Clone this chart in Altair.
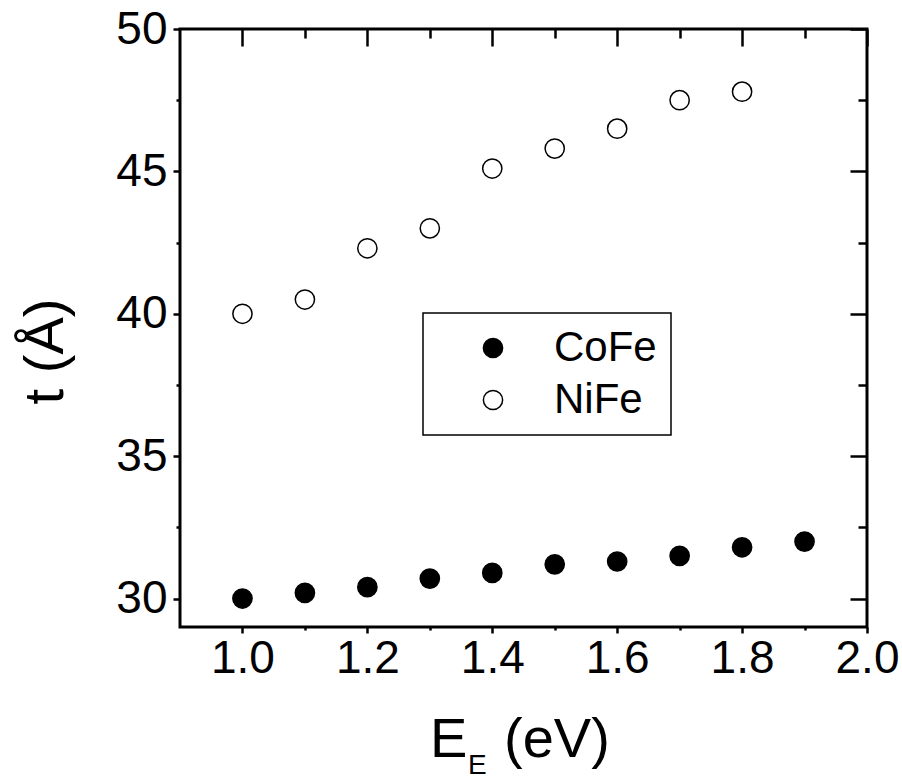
import altair as alt
import pandas as pd

FONT = "Liberation Sans"

# data
series = ["CoFe", "NiFe"]
E_cofe = [1.0, 1.1, 1.2, 1.3, 1.4, 1.5, 1.6, 1.7, 1.8, 1.9]
t_cofe = [30.0, 30.2, 30.4, 30.7, 30.9, 31.2, 31.3, 31.5, 31.8, 32.0]
E_nife = [1.0, 1.1, 1.2, 1.3, 1.4, 1.5, 1.6, 1.7, 1.8]
t_nife = [40.0, 40.5, 42.3, 43.0, 45.1, 45.8, 46.5, 47.5, 47.8]

x_major = [1.0, 1.2, 1.4, 1.6, 1.8, 2.0]
x_minor = [1.1, 1.3, 1.5, 1.7, 1.9]
y_major = [30, 35, 40, 45, 50]
y_minor = [32.5, 37.5, 42.5, 47.5]
x_domain = [0.9, 2.0]
y_domain = [29, 50]

df = pd.DataFrame({
    "E": E_cofe + E_nife,
    "t": t_cofe + t_nife,
    "series": [series[0]] * len(E_cofe) + [series[1]] * len(E_nife),
})

xs = alt.Scale(domain=x_domain, nice=False, zero=False)
ys = alt.Scale(domain=y_domain, nice=False, zero=False)


def ax(values, orient, size, offset=0, **kw):
    base = dict(values=values, orient=orient, tickSize=size, offset=offset,
                domain=False, grid=False, title=None, ticks=True,
                tickColor="black", tickWidth=2.5, labels=False)
    base.update(kw)
    return alt.Axis(**base)


lab = dict(labels=True, labelFont=FONT, labelFontSize=46, labelColor="black",
           labelFlush=False, labelOverlap=False)

x_bottom_major = ax(x_major, "bottom", 6, format=".1f", labelPadding=3, **lab)
x_bottom_minor = ax(x_minor, "bottom", 3)
x_top_major = ax(x_major, "top", 17, offset=-17)
x_top_minor = ax(x_minor, "top", 9, offset=-9)

y_left_major = ax(y_major, "left", 7, labelPadding=6, **lab,
                  title="t (Å)", titleFont=FONT, titleFontSize=56,
                  titleFontWeight="normal", titleColor="black",
                  titleAngle=270, titleAlign="center",
                  titleBaseline="alphabetic", titleX=-118, titleY=322)
y_left_minor = ax(y_minor, "left", 4)
y_right_major = ax(y_major, "right", 17, offset=-17)
y_right_minor = ax(y_minor, "right", 9, offset=-9)

points = alt.Chart(df).mark_point(
    shape="circle", size=370, filled=True, stroke="black",
    strokeWidth=1.5, fillOpacity=1, opacity=1
).encode(
    x=alt.X("E:Q", scale=xs, axis=x_bottom_major),
    y=alt.Y("t:Q", scale=ys, axis=y_left_major),
    fill=alt.Fill("series:N",
                  scale=alt.Scale(domain=series, range=["black", "white"]),
                  legend=alt.Legend(
                      title=None, orient="none", legendX=243, legendY=284,
                      strokeColor="black", fillColor="white", padding=14,
                      symbolType="circle", symbolSize=370,
                      symbolStrokeColor="black", symbolStrokeWidth=1.5,
                      symbolOffset=35, labelOffset=40, rowPadding=10,
                      labelFont=FONT, labelFontSize=42, labelColor="black")),
)


def ghost(xa, ya):
    return alt.Chart(df).mark_point(opacity=0).encode(
        x=alt.X("E:Q", scale=xs, axis=xa),
        y=alt.Y("t:Q", scale=ys, axis=ya),
    )


one = pd.DataFrame({"k": [0]})


def label(text, size, x, y):
    return alt.Chart(one).mark_text(
        text=text, font=FONT, fontSize=size, align="left",
        baseline="alphabetic", color="black"
    ).encode(x=alt.value(x), y=alt.value(y))


chart = alt.layer(
    points,
    ghost(x_bottom_minor, y_left_minor),
    ghost(x_top_major, y_right_major),
    ghost(x_top_minor, y_right_minor),
    label("E", 56, 250, 728),
    label("E", 28, 288, 745),
    label("(eV)", 56, 324, 728),
).resolve_axis(x="independent", y="independent").properties(
    width=687, height=598,
    autosize=alt.AutoSizeParams(type="none"),
    padding={"left": 180, "top": 29, "right": 35, "bottom": 153},
    background="white",
).configure_view(
    stroke="black", strokeWidth=3
).configure_legend(strokeWidth=1.5)

chart.save("out.html", embed_options={"renderer": "svg", "actions": False})
